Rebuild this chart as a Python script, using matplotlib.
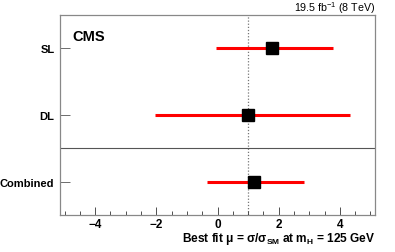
import matplotlib
matplotlib.use("Agg")
import matplotlib.pyplot as plt
from matplotlib.ticker import MultipleLocator

plt.rcParams['font.family'] = ['Liberation Sans', 'DejaVu Sans']
plt.rcParams['mathtext.fontset'] = 'custom'
plt.rcParams['mathtext.rm'] = 'Liberation Sans'
plt.rcParams['mathtext.bf'] = 'Liberation Sans:bold'

categories = ["Combined", "DL", "SL"]
mu = [1.2, 1.0, 1.77]
err_lo = [1.55, 3.04, 1.82]
err_hi = [1.63, 3.34, 2.01]
sm_value = 1.0

fig = plt.figure(figsize=(3.95, 2.53), dpi=100)
ax = fig.add_axes([60/395, 1-216/253, 315/395, 200/253])

ypos = list(range(len(categories)))
ax.errorbar(mu, ypos, xerr=[err_lo, err_hi], fmt='s', color='black',
            ecolor='#ff0000', elinewidth=2.2, capsize=0, markersize=8.5, zorder=3)
ax.axvline(sm_value, color='#777777', linestyle=(0, (1, 1.5)), linewidth=0.9, zorder=1)
ax.axhline(0.5, color='#555555', linewidth=0.8)

ax.set_xlim(-5.15, 5.15)
ax.set_ylim(-0.5, 2.5)
ax.set_yticks(ypos)
ax.set_yticklabels(categories, fontweight='bold', fontsize=8)
ax.xaxis.set_major_locator(MultipleLocator(2))
ax.xaxis.set_minor_locator(MultipleLocator(0.5))
for lab in ax.get_xticklabels():
    lab.set_fontweight('bold')
ax.tick_params(axis='x', which='major', direction='in', length=6, width=0.6,
               labelsize=8.5, top=False, pad=2, colors='#333333', labelcolor='black')
ax.tick_params(axis='x', which='minor', direction='in', length=3, width=0.6, top=False, colors='#333333')
ax.tick_params(axis='y', which='major', direction='in', length=7, width=0.6,
               right=False, pad=4, colors='#555555', labelcolor='black')
for s in ax.spines.values():
    s.set_color('#888888')
    s.set_linewidth(0.9)

ax.text(0.04, 0.93, "CMS", transform=ax.transAxes, fontsize=10.5, fontweight='bold',
        ha='left', va='top')
fig.text(375/395, 1-12/253, r"19.5 fb$^{\mathregular{-1}}$ (8 TeV)", ha='right', va='baseline', fontsize=7.7)
fig.text(375/395, 1-242/253,
         r"Best fit $\mathbf{\mu}$ = $\mathbf{\sigma/\sigma}_{\mathbf{SM}}$ at m$_{\mathbf{H}}$ = 125 GeV",
         ha='right', va='baseline', fontsize=8.6, fontweight='bold')

fig.savefig("out.png", dpi=100)
